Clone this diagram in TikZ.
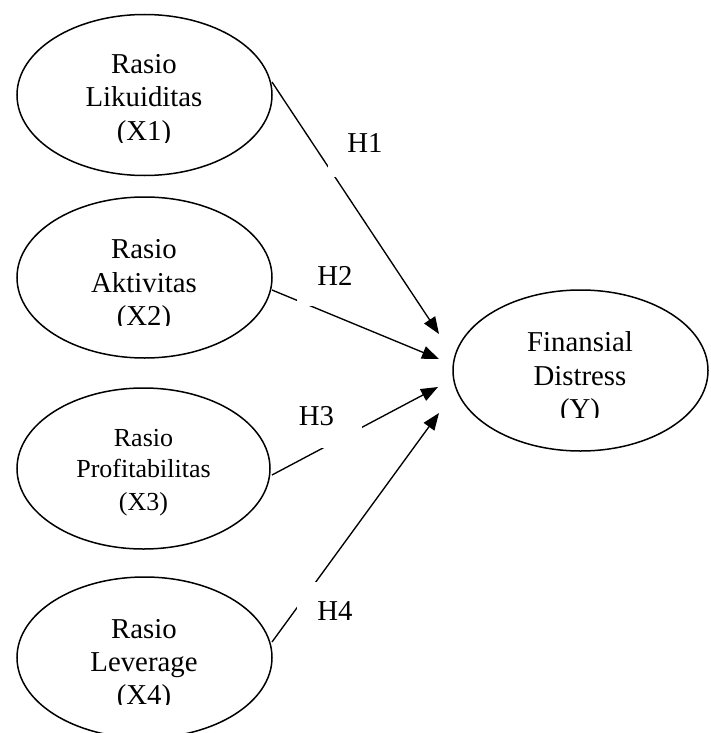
\documentclass[tikz,border=0pt]{standalone}
\usepackage{fontspec}
\setmainfont{Liberation Serif}
\usetikzlibrary{shapes.geometric,arrows.meta}
\begin{document}
\begin{tikzpicture}[x=1pt,y=-1pt,
  var/.style={draw,ellipse,line width=1.5pt,inner sep=0pt,minimum width=255pt,minimum height=161pt},
  txt/.style={anchor=base,inner sep=0pt,font=\fontsize{28.8}{33}\selectfont},
  stxt/.style={anchor=base,inner sep=0pt,font=\fontsize{26}{30}\selectfont},
  hyp/.style={line width=1.35pt,-{Triangle[length=17pt,width=13pt]}},
  mask/.style={fill=white}]
\useasboundingbox (0,0) rectangle (710,733);

% ellipses
\node[var] (x1) at (144.5,95) {};
\node[var] (x2) at (144.5,277.5) {};
\node[var,minimum width=253pt] (x3) at (143.5,468.5) {};
\node[var] (x4) at (144.5,657.5) {};
\node[var] (y) at (580.5,370.5) {};

% texts (clipped as in the original text boxes)
\begin{scope}
  \clip (40,40) rectangle (250,142);
  \node[txt] (x1a) at (144,74) {Rasio};
  \node[txt] (x1b) at (144,107) {Likuiditas};
  \node[txt] (x1c) at (144,140) {(X1)};
\end{scope}
\begin{scope}
  \clip (40,225) rectangle (250,325.5);
  \node[txt] (x2a) at (144,258.5) {Rasio};
  \node[txt] (x2b) at (144,292) {Aktivitas};
  \node[txt] (x2c) at (144,325) {(X2)};
\end{scope}
\node[stxt] (x3a) at (143.5,446) {Rasio};
\node[stxt] (x3b) at (143.5,477) {Profitabilitas};
\node[stxt] (x3c) at (143.5,510) {(X3)};
\begin{scope}
  \clip (40,600) rectangle (250,704);
  \node[txt] (x4a) at (144,638) {Rasio};
  \node[txt] (x4b) at (144,671) {Leverage};
  \node[txt] (x4c) at (144,704) {(X4)};
\end{scope}
\begin{scope}
  \clip (470,310) rectangle (690,417);
  \node[txt] (ya) at (580,351) {Finansial};
  \node[txt] (yb) at (580,385) {Distress};
  \node[txt] (yc) at (580,418) {(Y)};
\end{scope}

% connectors
\coordinate (s1) at (272,82);
\coordinate (s2) at (272,290);
\coordinate (s3) at (272,475);
\coordinate (s4) at (272,642);
\coordinate (e1) at (439,334);
\coordinate (e2) at (439,359);
\coordinate (e3) at (438,387);
\coordinate (e4) at (439,413);
\draw[hyp] (s1) -- (e1);
\draw[hyp] (s2) -- (e2);
\draw[hyp] (s3) -- (e3);
\draw[hyp] (s4) -- (e4);

% label boxes (white, cut the lines)
\fill[mask] (328,113) rectangle (405,177);
\fill[mask] (297,245) rectangle (379,306);
\fill[mask] (290,390) rectangle (362,448);
\fill[mask] (297,582) rectangle (380,640);

\node[txt] (h1) at (365,153) {H1};
\node[txt] (h2) at (335,285) {H2};
\node[txt] (h3) at (316.5,425) {H3};
\node[txt] (h4) at (335,620) {H4};
\end{tikzpicture}
\end{document}
